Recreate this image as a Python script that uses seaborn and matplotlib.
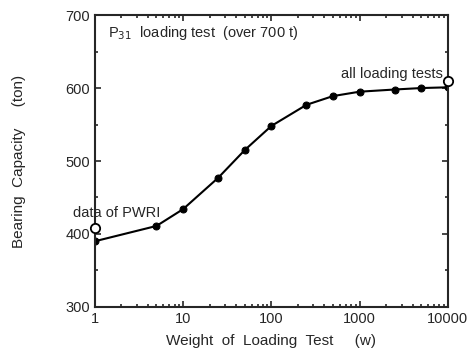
import numpy as np
import pandas as pd
import seaborn as sns
import matplotlib.pyplot as plt
from matplotlib.ticker import MultipleLocator, LogLocator, NullFormatter

weight = [1, 5, 10, 25, 50, 100, 250, 500, 1000, 2500, 5000, 10000]
capacity = [390, 411, 434, 477, 515, 548, 577, 589, 595, 598, 600, 601]
ref_weight = [1, 10000]
ref_capacity = [408, 609]

sns.set_style("ticks")
plt.rcParams['font.family'] = ['Liberation Sans', 'DejaVu Sans']

df = pd.DataFrame({"w": weight, "cap": capacity})
ref = pd.DataFrame({"w": ref_weight, "cap": ref_capacity})

fig = plt.figure(figsize=(4.67, 3.59), dpi=100)
ax = fig.add_axes([0.203, 0.145, 0.756, 0.813])

sns.lineplot(data=df, x="w", y="cap", ax=ax, color="black", lw=1.5,
             marker="o", markersize=5, markeredgecolor="black")
sns.scatterplot(data=ref, x="w", y="cap", ax=ax, s=45, facecolor="white",
                edgecolor="black", linewidth=1.3, zorder=5, clip_on=False)

ax.set_xscale("log")
ax.set_xlim(1, 10000)
ax.set_ylim(300, 700)
ax.set_xticks([1, 10, 100, 1000, 10000])
ax.set_xticklabels(["1", "10", "100", "1000", "10000"])
ax.xaxis.set_minor_locator(LogLocator(base=10, subs=np.arange(2, 10)))
ax.xaxis.set_minor_formatter(NullFormatter())
ax.yaxis.set_major_locator(MultipleLocator(100))
ax.yaxis.set_minor_locator(MultipleLocator(50))
ax.tick_params(which="both", direction="in", top=True, right=True, labelsize=10.5, width=1.2)
ax.tick_params(which="major", length=4)
ax.tick_params(which="minor", length=2.5)
for s in ax.spines.values():
    s.set_linewidth(1.5)

ax.set_xlabel("Weight  of  Loading  Test     (w)", fontsize=11, labelpad=6)
ax.set_ylabel("Bearing  Capacity     (ton)", fontsize=11, labelpad=28)

ax.text(1.4, 670, "P$_{31}$  loading test  (over 700 t)", fontsize=10.5)
ax.text(0.57, 423, "data of PWRI", fontsize=10.5)
ax.text(8700, 614, "all loading tests", fontsize=10.5, ha="right")

fig.savefig("out.png", dpi=100)
